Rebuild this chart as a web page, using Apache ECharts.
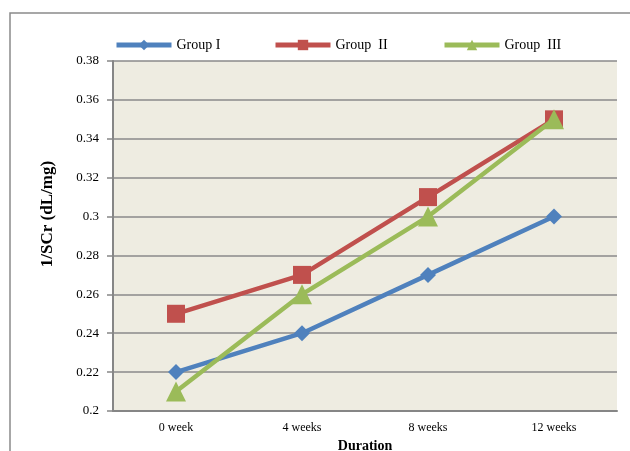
<!DOCTYPE html>
<html>
<head>
<meta charset="utf-8">
<script src="https://cdn.jsdelivr.net/npm/echarts@6/dist/echarts.min.js"></script>
<style>
  html, body { margin: 0; padding: 0; background: #ffffff; }
  #chart { width: 630px; height: 451px; }
</style>
</head>
<body>
<div id="chart"></div>
<script>
// Renal function (1/SCr) over the study period for the three groups
const durations = ['0 week', '4 weeks', '8 weeks', '12 weeks'];
const groupNames = ['Group I', 'Group  II', 'Group  III'];
const groupI = [0.22, 0.24, 0.27, 0.30];
const groupII = [0.25, 0.27, 0.31, 0.35];
const groupIII = [0.21, 0.26, 0.30, 0.35];

const colors = ['#4F81BD', '#C0504D', '#9BBB59'];
const symbols = ['diamond', 'rect', 'triangle'];
const symbolSizes = [16, 18, 20];
const serif = '"Liberation Serif", "Times New Roman", serif';

const chart = echarts.init(document.getElementById('chart'));

const seriesData = [groupI, groupII, groupIII];
const series = seriesData.map((values, i) => ({
  name: groupNames[i],
  type: 'line',
  data: values,
  symbol: symbols[i],
  symbolSize: symbolSizes[i],
  showAllSymbol: true,
  lineStyle: { color: colors[i], width: 4.5 },
  itemStyle: { color: colors[i] },
  z: 3 + i,
  animation: false
}));

// One legend per group so each entry sits where it belongs along the top
const legendLefts = [114, 273, 442];
const legends = groupNames.map((name, i) => ({
  data: [name],
  left: legendLefts[i],
  top: 38,
  padding: 0,
  itemWidth: 55,
  itemHeight: 13,
  itemGap: 2,
  lineStyle: { width: 5 },
  textStyle: { fontFamily: serif, fontSize: 14, color: '#000' }
}));

chart.setOption({
  backgroundColor: '#ffffff',
  animation: false,
  color: colors,
  legend: legends,
  grid: {
    left: 113, right: 13, top: 61, bottom: 40,
    outerBoundsMode: 'none',
    show: true, backgroundColor: '#EEECE1', borderWidth: 0
  },
  graphic: [{
    type: 'rect',
    shape: { x: 10, y: 13, width: 640, height: 460 },
    style: { fill: 'none', stroke: '#8a8a8a', lineWidth: 1.5 },
    silent: true
  }],
  xAxis: {
    type: 'category',
    data: durations,
    boundaryGap: true,
    axisLine: { lineStyle: { color: '#868686', width: 2 } },
    axisTick: { show: false },
    axisLabel: { fontFamily: serif, fontSize: 12, color: '#000', margin: 11 },
    name: 'Duration',
    nameLocation: 'middle',
    nameGap: 28,
    nameTextStyle: { fontFamily: serif, fontSize: 14, fontWeight: 'bold', color: '#000' }
  },
  yAxis: {
    type: 'value',
    min: 0.2,
    max: 0.38,
    interval: 0.02,
    axisLine: { show: true, lineStyle: { color: '#868686', width: 2 } },
    axisTick: { show: true, length: 6, lineStyle: { color: '#868686', width: 1.5 } },
    splitLine: { show: true, lineStyle: { color: '#8a8a8a', width: 1.5 } },
    axisLabel: {
      fontFamily: serif, fontSize: 13, color: '#000', margin: 14,
      formatter: v => String(+v.toFixed(2))
    },
    name: '1/SCr (dL/mg)',
    nameLocation: 'middle',
    nameGap: 57,
    nameTextStyle: {
      fontFamily: serif, fontSize: 17, fontWeight: 'bold', color: '#000',
      padding: [0, 0, 0, 44]
    }
  },
  series: series
});
</script>
</body>
</html>
